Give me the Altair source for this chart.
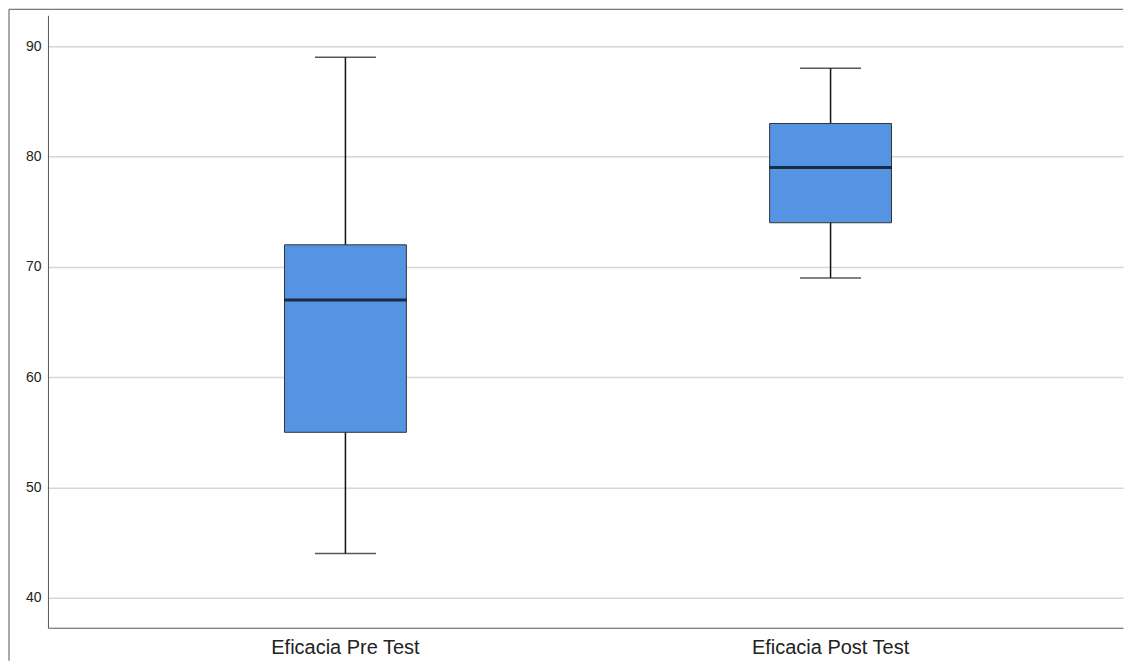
import altair as alt
import pandas as pd

categories = ["Eficacia Pre Test", "Eficacia Post Test"]
mins = [44, 69]
q1s = [55, 74]
medians = [67, 79]
q3s = [72, 83]
maxs = [89, 88]
y_ticks = [40, 50, 60, 70, 80, 90]

df = pd.DataFrame({
    "cat": categories,
    "min": mins,
    "q1": q1s,
    "med": medians,
    "q3": q3s,
    "max": maxs,
})

W = 1076
H = 613

x_enc = alt.X(
    "cat:N",
    sort=categories,
    scale=alt.Scale(paddingInner=0, paddingOuter=0.108, align=0.524),
    axis=alt.Axis(
        title=None, labelAngle=0, ticks=False, grid=False,
        labelFontSize=20, labelFont="Liberation Sans", labelColor="#222222",
        labelPadding=10, domainColor="#555555", domainWidth=1,
    ),
)
y_scale = alt.Scale(domain=[37.28, 92.81], nice=False, zero=False)
y_axis = alt.Axis(
    title=None, values=y_ticks, ticks=False, grid=True,
    gridColor="#d6d6d6", gridWidth=1.5,
    labelFontSize=14, labelFont="Liberation Sans", labelColor="#222222",
    labelPadding=7, domainColor="#555555", domainWidth=1,
)

base = alt.Chart(df)

whisker = base.mark_rule(color="#111111", strokeWidth=1.5).encode(
    x=x_enc,
    y=alt.Y("min:Q", scale=y_scale, axis=y_axis),
    y2="max:Q",
)
box = base.mark_bar(size=122, fill="#5593e3", stroke="#333333", strokeWidth=1).encode(
    x=x_enc,
    y=alt.Y("q1:Q", scale=y_scale, axis=y_axis),
    y2="q3:Q",
)
median = base.mark_tick(size=122, thickness=3, color="#000000").encode(
    x=x_enc,
    y=alt.Y("med:Q", scale=y_scale, axis=y_axis),
)
cap_low = base.mark_tick(size=61, thickness=1.5, color="#111111").encode(
    x=x_enc,
    y=alt.Y("min:Q", scale=y_scale, axis=y_axis),
)
cap_high = base.mark_tick(size=61, thickness=1.5, color="#111111").encode(
    x=x_enc,
    y=alt.Y("max:Q", scale=y_scale, axis=y_axis),
)

frame_df = pd.DataFrame({"a": [0]})
frame_top = alt.Chart(frame_df).mark_rule(color="#555555", strokeWidth=1).encode(
    x=alt.value(-39), x2=alt.value(W), y=alt.value(-6)
)
frame_left = alt.Chart(frame_df).mark_rule(color="#555555", strokeWidth=1).encode(
    x=alt.value(-39), y=alt.value(-6), y2=alt.value(H + 33)
)

chart = alt.layer(
    whisker, box, median, cap_low, cap_high, frame_top, frame_left
).properties(
    width=W, height=H, padding=0, background="white"
).configure_view(
    stroke="transparent"
)

chart.save("out.html", embed_options={"renderer": "svg", "actions": False})
